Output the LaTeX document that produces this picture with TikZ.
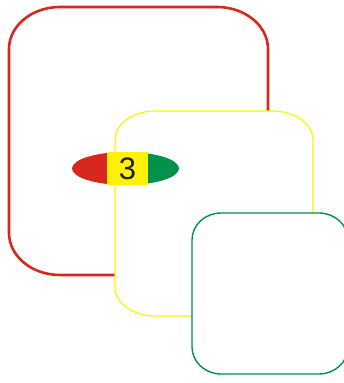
\documentclass[tikz,border=0pt]{standalone}
\usepackage{fontspec}
\setmainfont{Liberation Sans}
\definecolor{cred}{HTML}{D7281E}
\definecolor{cyel}{HTML}{FFF200}
\definecolor{cgrn}{HTML}{00924A}
\definecolor{ctxt}{HTML}{231F20}
\tikzset{
  boxline/.style={line join=round},
  numbox/.style={fill=cyel, inner sep=0pt, minimum width=41pt, minimum height=33pt,
     text=ctxt, font=\fontsize{31}{31}\selectfont}
}
% rounded rectangle with elliptical corners: #1 left, #2 bottom, #3 right, #4 top, #5 rx, #6 ry
\newcommand{\ellrect}[6]{%
  (#1+#5,#4) -- (#3-#5,#4)
  arc[start angle=90, end angle=0, x radius=#5, y radius=#6]
  -- (#3,#2+#6)
  arc[start angle=0, end angle=-90, x radius=#5, y radius=#6]
  -- (#1+#5,#2)
  arc[start angle=270, end angle=180, x radius=#5, y radius=#6]
  -- (#1,#4-#6)
  arc[start angle=180, end angle=90, x radius=#5, y radius=#6]
  -- cycle}
\begin{document}
\begin{tikzpicture}[x=1pt,y=1pt]
\useasboundingbox (0,0) rectangle (344,383);
% red box
\draw[boxline, cred, line width=2.6pt, fill=white] \ellrect{9}{108}{268}{376}{51}{42};
% yellow box
\draw[boxline, cyel, line width=1.2pt, fill=white] \ellrect{115}{67}{313}{272}{40}{29};
% green box
\draw[boxline, cgrn, line width=1.4pt, fill=white] \ellrect{192}{9}{348}{170}{29}{27};
% tri-colour ellipse
\begin{scope}
  \clip (125.5,214.5) ellipse[x radius=53.5, y radius=16.5];
  \fill[cred] (70,195) rectangle (108,234);
  \fill[cgrn] (147,195) rectangle (182,234);
\end{scope}
\node[numbox] (num) at (127.5,214.5) {3};
\end{tikzpicture}
\end{document}
